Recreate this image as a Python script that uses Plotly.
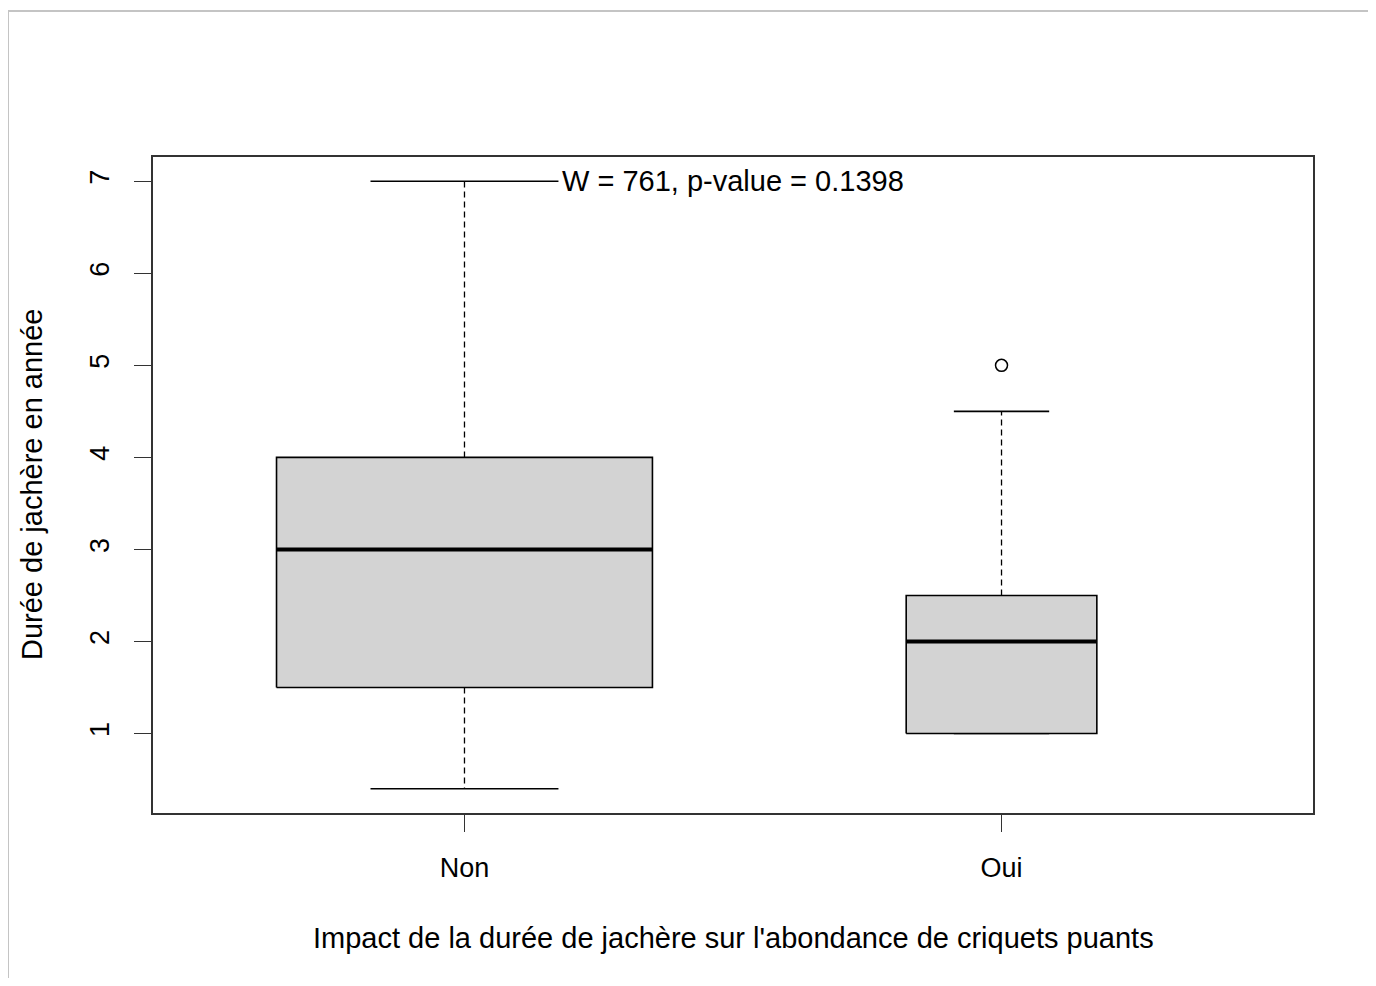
import plotly.graph_objects as go

# ---- data ----
groups = ["Non", "Oui"]
q1 = [1.5, 1.0]
median = [3.0, 2.0]
q3 = [4.0, 2.5]
whisker_low = [0.4, 1.0]
whisker_high = [7.0, 4.5]
outlier_group = [2]
outlier_value = [5.0]
y_ticks = [1, 2, 3, 4, 5, 6, 7]
test_text = "W = 761, p-value = 0.1398"
x_title = "Impact de la durée de jachère sur l'abondance de criquets puants"
y_title = "Durée de jachère en année"

# ---- style ----
box_widths = [0.70, 0.355]      # varwidth-style relative widths
FONT = "Liberation Sans, Arial, sans-serif"
FS = 27
FS_TXT = 29
INK = "#000000"
FRAME = "#333333"

positions = [i + 1 for i in range(len(groups))]

fig = go.Figure()
for pos, a, m, b, lo, hi, w in zip(positions, q1, median, q3, whisker_low, whisker_high, box_widths):
    # dashed whiskers
    fig.add_trace(go.Scatter(x=[pos, pos, None, pos, pos], y=[b, hi, None, a, lo], mode="lines",
                             line=dict(color=INK, width=1.3, dash="6px,4px"), hoverinfo="skip"))
    # caps
    fig.add_trace(go.Scatter(x=[pos - w / 4, pos + w / 4, None, pos - w / 4, pos + w / 4],
                             y=[hi, hi, None, lo, lo], mode="lines",
                             line=dict(color=INK, width=1.6), hoverinfo="skip"))
    # box
    fig.add_trace(go.Scatter(x=[pos - w / 2, pos + w / 2, pos + w / 2, pos - w / 2, pos - w / 2],
                             y=[a, a, b, b, a], mode="lines", fill="toself", fillcolor="#d3d3d3",
                             line=dict(color=INK, width=1.6), hoverinfo="skip"))
    # median
    fig.add_trace(go.Scatter(x=[pos - w / 2, pos + w / 2], y=[m, m], mode="lines",
                             line=dict(color=INK, width=4), hoverinfo="skip"))

fig.add_trace(go.Scatter(x=outlier_group, y=outlier_value, mode="markers",
                         marker=dict(symbol="circle-open", size=12, color=INK, line=dict(width=1.5)),
                         hoverinfo="skip"))

# axis ranges like R (4% extension)
x_lo, x_hi = 0.5, len(groups) + 0.5
dx = (x_hi - x_lo) * 0.04
y_min = min(whisker_low + outlier_value)
y_max = max(whisker_high + outlier_value)
dy = (y_max - y_min) * 0.04

OFF = 8
W, H = 1360, 970
L, T = 153 - OFF, 157 - OFF
R, B = W - (1313 - OFF), H - (813 - OFF)
pw, ph = W - L - R, H - T - B

fig.add_annotation(x=1.5, y=whisker_high[0], text=test_text, showarrow=False,
                   xanchor="center", yanchor="middle", font=dict(size=FS_TXT, color=INK, family=FONT))
fig.add_annotation(x=0.5, y=-(938 - 813) / ph, xref="paper", yref="paper", text=x_title,
                   showarrow=False, xanchor="center", yanchor="middle",
                   font=dict(size=FS_TXT, color=INK, family=FONT))
fig.add_annotation(x=(32 - 153) / pw, y=0.5, xref="paper", yref="paper", text=y_title,
                   textangle=-90, showarrow=False, xanchor="center", yanchor="middle",
                   font=dict(size=FS_TXT, color=INK, family=FONT))

# outer light-grey border (top and left)
bx0 = -L / pw
by_top = 1 + (T - 3) / ph
fig.add_shape(type="line", xref="paper", yref="paper", x0=bx0, x1=(W - L + OFF) / pw, y0=by_top, y1=by_top,
              line=dict(color="#c4c4c4", width=2))
fig.add_shape(type="line", xref="paper", yref="paper", x0=bx0, x1=bx0, y0=by_top, y1=-(B + OFF) / ph,
              line=dict(color="#c4c4c4", width=2))

fig.update_layout(
    width=W, height=H, showlegend=False,
    margin=dict(l=L, r=R, t=T, b=B, autoexpand=False),
    paper_bgcolor="white", plot_bgcolor="white",
    font=dict(family=FONT, size=FS, color=INK),
)
fig.update_xaxes(range=[x_lo - dx, x_hi + dx], tickvals=positions, ticktext=groups,
                 showgrid=False, zeroline=False, showline=True, mirror=True,
                 linecolor=FRAME, linewidth=1.6, ticks="outside", ticklen=17, tickwidth=1.4,
                 tickcolor=FRAME, ticklabelstandoff=13, tickfont=dict(size=FS, family=FONT, color=INK))
fig.update_yaxes(range=[y_min - dy, y_max + dy], tickvals=y_ticks,
                 showgrid=False, zeroline=False, showline=True, mirror=True,
                 linecolor=FRAME, linewidth=1.6, ticks="outside", ticklen=17, tickwidth=1.4,
                 tickcolor=FRAME, tickangle=-90, ticklabelstandoff=14,
                 tickfont=dict(size=FS, family=FONT, color=INK))

fig.write_html("out.html")
